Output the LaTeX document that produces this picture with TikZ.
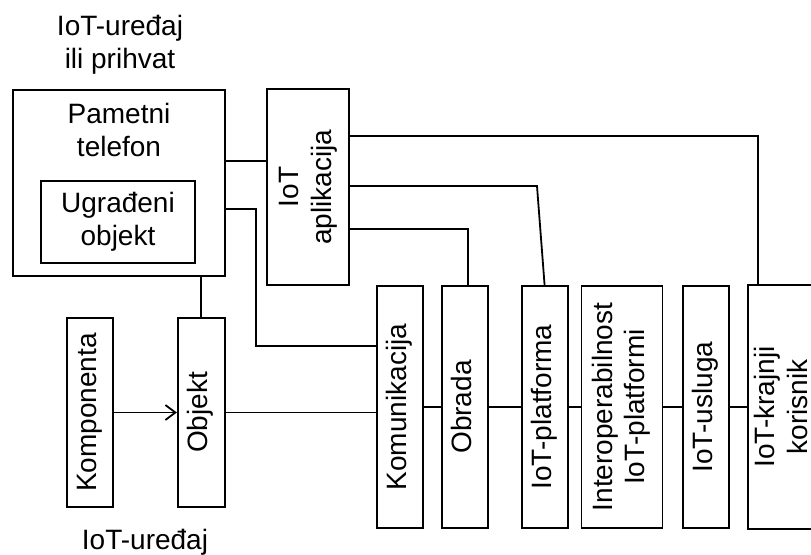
\documentclass[tikz,border=0pt]{standalone}
\usepackage{fontspec}
\setmainfont{Liberation Sans}
\usepackage{graphicx}
\usetikzlibrary{arrows.meta, positioning, calc}

\newcommand{\vtext}[1]{\rotatebox{90}{\begin{tabular}{@{}c@{}}#1\end{tabular}}}

\begin{document}
\begin{tikzpicture}[
    x=0.5pt, y=-0.5pt,
    font=\fontsize{14}{16.5}\selectfont,
    block/.style={rectangle, draw, line width=0.9pt, inner sep=0pt, align=center},
    vblock/.style={block, minimum width=23pt, minimum height=121pt},
    link/.style={line width=0.9pt},
    arrow/.style={link, -{Straight Barb[length=5pt, width=7.5pt]}}
]
\useasboundingbox (0,0) rectangle (811,555);

% Device / gateway side
\node[anchor=north, align=center, inner sep=0pt] (devgw) at (120,15) {IoT-uređaj\\ili prihvat};
\node[block, minimum width=106pt, minimum height=93pt,
      label={[align=center, anchor=north, inner sep=0pt, yshift=-7pt]north:Pametni\\telefon}] (phone) at (119,183) {};
\node[block, minimum width=77pt, minimum height=41pt] (ugradeni) at (118,222) {Ugrađeni\\objekt};
\node[block, minimum width=41pt, minimum height=98pt] (app) at (308,187) {\vtext{IoT\\aplikacija}};

\node[block, minimum width=23pt, minimum height=94.5pt] (komponenta) at (90,412.5) {\vtext{Komponenta}};
\node[block, minimum width=23.5pt, minimum height=94.5pt, right=31.5pt of komponenta] (objekt) {\vtext{Objekt}};
\node[anchor=base, inner sep=0pt] (dev) at (145,550) {IoT-uređaj};

% Chain of layers
\node[vblock] (komunikacija) at (400,407) {\vtext{Komunikacija}};
\node[vblock, right=8.5pt of komunikacija] (obrada) {\vtext{Obrada}};
\node[vblock, right=16pt of obrada] (platforma) {\vtext{IoT-platforma}};
\node[vblock, minimum width=40.5pt, right=6pt of platforma] (interop) {\vtext{Interoperabilnost\\IoT-platformi}};
\node[vblock, right=9.5pt of interop] (usluga) {\vtext{IoT-usluga}};
\node[vblock, draw=none, minimum width=35.5pt, right=9pt of usluga] (korisnik) {\vtext{IoT-krajnji\\korisnik}};
% last box runs off the right edge
\draw[link] (korisnik.north east) -- (korisnik.north west) -- (korisnik.south west) -- (korisnik.south east);

% Bend points
\coordinate (ya) at (0,161);
\coordinate (b1) at (256,209);
\coordinate (b2) at (256,346);
\coordinate (r1) at (758,136);
\coordinate (r2) at (537,186);
\coordinate (r3) at (468,229);

% Connections
\draw[link] (phone.east |- ya) -- (app.west |- ya);
\draw[link] (phone.east |- b1) -- (b1) -- (b2) -- (komunikacija.west |- b2);
\draw[link] (objekt.north |- phone.south) -- (objekt.north);
\draw[arrow] (komponenta) -- (objekt);
\draw[link] (objekt.east) -- (objekt.east -| komunikacija.west);

\draw[link] (komunikacija) -- (obrada);
\draw[link] (obrada) -- (platforma);
\draw[link] (platforma) -- (interop);
\draw[link] (interop) -- (usluga);
\draw[link] (usluga) -- (korisnik.west);

\draw[link] (app.east |- r1) -- (r1) -- (korisnik.north -| r1);
\draw[link] (app.east |- r2) -- (r2) -- (platforma.north);
\draw[link] (app.east |- r3) -- (r3) -- (obrada.north -| r3);

\end{tikzpicture}
\end{document}
